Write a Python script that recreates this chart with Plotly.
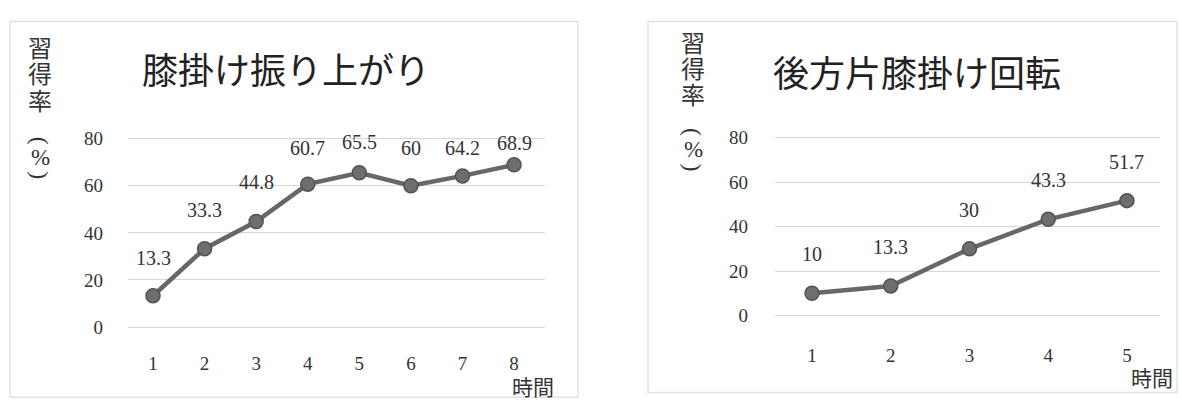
import plotly.graph_objects as go

# ---- data ----
left_title = "膝掛け振り上がり"
left_hours = [1, 2, 3, 4, 5, 6, 7, 8]
left_rates = [13.3, 33.3, 44.8, 60.7, 65.5, 60, 64.2, 68.9]

right_title = "後方片膝掛け回転"
right_hours = [1, 2, 3, 4, 5]
right_rates = [10, 13.3, 30, 43.3, 51.7]

y_ticks = [0, 20, 40, 60, 80]
# vertical title 習得率（%）: brackets drawn as rotated parentheses
y_title_chars = ["習", "得", "率", "(", "%", ")"]
x_title = "時間"

# ---- style ----
W, H = 1182, 411
FONT = "Liberation Serif, Noto Sans CJK JP"
LINE = "#676767"
MARK = "#6e6e6e"
TXT = "#333333"
GRID = "#d6d6d6"

left_label_shift = [38, 39, 40, 36, 31, 38, 28, 22]
right_label_shift = [39, 39, 39, 39, 39]
left_ytitle_pos = [43, 70, 98, 138, 156, 174]
right_ytitle_pos = [37, 64, 92, 129, 147, 166]

def px(x):
    return x / W

def py(y):
    return 1 - y / H

fig = go.Figure()

for xs, ys, xa, ya in [(left_hours, left_rates, "x", "y"),
                       (right_hours, right_rates, "x2", "y2")]:
    fig.add_trace(go.Scatter(
        x=xs, y=ys, mode="lines+markers",
        line=dict(color=LINE, width=4.5),
        marker=dict(size=14, color=MARK, line=dict(color="#525252", width=1.5)),
        xaxis=xa, yaxis=ya, showlegend=False, cliponaxis=False,
    ))

axis_common = dict(
    showline=False, ticks="",
    tickfont=dict(family=FONT, size=19, color=TXT),
)

# left: 0 at y=332px, 80 at 136px ; right: 0 at 320px, 80 at 135px
lu = (332 - 136) / 80.0
ru = (320 - 135) / 80.0

fig.update_layout(
    width=W, height=H,
    margin=dict(l=0, r=0, t=0, b=0),
    paper_bgcolor="white", plot_bgcolor="white",
    font=dict(family=FONT, color=TXT),
    xaxis=dict(domain=[px(128), px(545)], range=[0.515, 8.6],
               tickvals=left_hours, showgrid=False, zeroline=False, anchor="y",
               ticklabelstandoff=21, **axis_common),
    yaxis=dict(domain=[py(332 + lu), py(136 - lu)], range=[-1, 81],
               tickvals=y_ticks, showgrid=True, gridcolor=GRID, gridwidth=1,
               zeroline=True, zerolinecolor=GRID, zerolinewidth=1,
               anchor="x", ticklabelstandoff=24, **axis_common),
    xaxis2=dict(domain=[px(775), px(1160)], range=[0.53, 5.42],
                tickvals=right_hours, showgrid=False, zeroline=False, anchor="y2",
                ticklabelstandoff=24, **axis_common),
    yaxis2=dict(domain=[py(320 + ru), py(135 - ru)], range=[-1, 81],
                tickvals=y_ticks, showgrid=True, gridcolor=GRID, gridwidth=1,
                zeroline=True, zerolinecolor=GRID, zerolinewidth=1,
                anchor="x2", ticklabelstandoff=26, **axis_common),
)

anns = []
for xv, yv, s in zip(left_hours, left_rates, left_label_shift):
    anns.append(dict(x=xv, y=yv, xref="x", yref="y", text=f"{yv:g}",
                     showarrow=False, yshift=s, xanchor="center", yanchor="middle",
                     font=dict(family=FONT, size=20, color=TXT)))
for xv, yv, s in zip(right_hours, right_rates, right_label_shift):
    anns.append(dict(x=xv, y=yv, xref="x2", yref="y2", text=f"{yv:g}",
                     showarrow=False, yshift=s, xanchor="center", yanchor="middle",
                     font=dict(family=FONT, size=20, color=TXT)))

# titles
anns.append(dict(x=px(286), y=py(67), xref="paper", yref="paper", text=left_title,
                 showarrow=False, xanchor="center", yanchor="middle",
                 font=dict(family=FONT, size=36, color="#222222")))
anns.append(dict(x=px(917), y=py(70), xref="paper", yref="paper", text=right_title,
                 showarrow=False, xanchor="center", yanchor="middle",
                 font=dict(family=FONT, size=36, color="#222222")))

# vertical y titles (one glyph per line)
for xc, ys in [(40, left_ytitle_pos), (693, right_ytitle_pos)]:
    for ch, yc in zip(y_title_chars, ys):
        is_bracket = ch in "()"
        size = 24
        if ch == "%":
            size = 23
        anns.append(dict(x=px(xc), y=py(yc), xref="paper", yref="paper", text=ch,
                         showarrow=False, xanchor="center", yanchor="middle",
                         textangle=90 if is_bracket else 0,
                         font=dict(family=FONT, size=size, color=TXT)))

# x titles
anns.append(dict(x=px(533), y=py(395), xref="paper", yref="paper", text=x_title,
                 showarrow=False, xanchor="center", yanchor="middle",
                 font=dict(family=FONT, size=21, color=TXT)))
anns.append(dict(x=px(1152), y=py(386), xref="paper", yref="paper", text=x_title,
                 showarrow=False, xanchor="center", yanchor="middle",
                 font=dict(family=FONT, size=21, color=TXT)))

fig.update_layout(annotations=anns)

# panel frames
fig.add_shape(type="rect", xref="paper", yref="paper",
              x0=px(10), x1=px(578), y0=py(405), y1=py(14),
              line=dict(color="#e2e2e2", width=1.5))
fig.add_shape(type="rect", xref="paper", yref="paper",
              x0=px(648), x1=px(1177), y0=py(400), y1=py(14),
              line=dict(color="#e2e2e2", width=1.5))

fig.write_html("out.html")
